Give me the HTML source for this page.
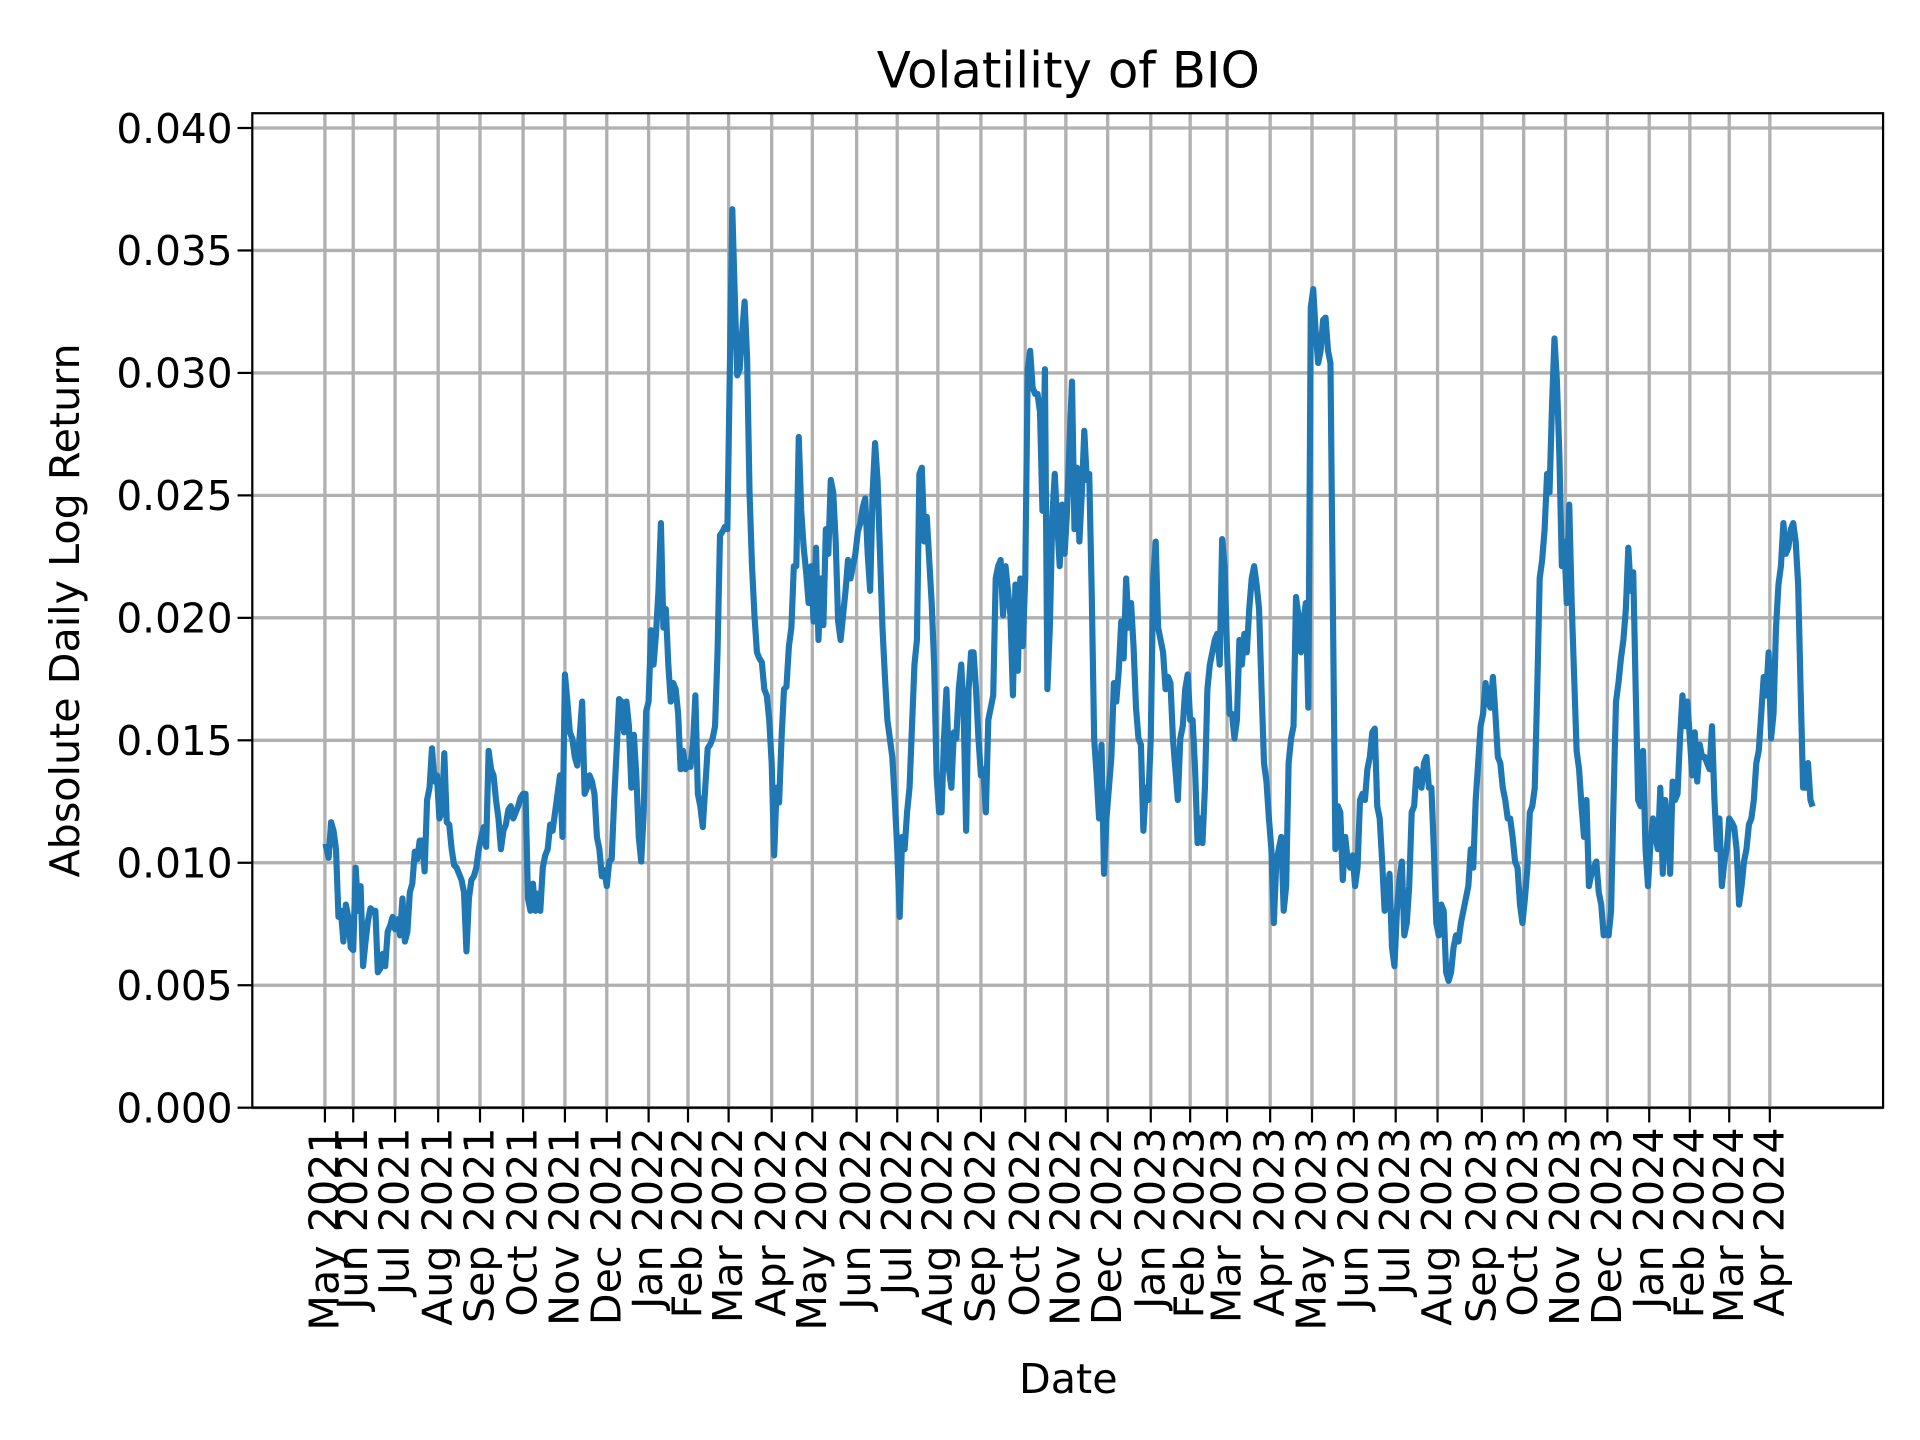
<!DOCTYPE html>
<html><head><meta charset="utf-8"><style>html,body{margin:0;padding:0;background:#fff}svg{display:block}</style></head>
<body>
<svg width="1920" height="1440" viewBox="0 0 1560 1170" xmlns="http://www.w3.org/2000/svg" font-family="'DejaVu Sans','Liberation Sans',sans-serif">
<rect width="1560" height="1170" fill="#fff"/>
<g stroke="#b0b0b0" stroke-width="2.7">
<line x1="205" x2="1530" y1="900" y2="900"/><line x1="205" x2="1530" y1="800.5" y2="800.5"/><line x1="205" x2="1530" y1="701" y2="701"/><line x1="205" x2="1530" y1="601.5" y2="601.5"/><line x1="205" x2="1530" y1="502" y2="502"/><line x1="205" x2="1530" y1="402.5" y2="402.5"/><line x1="205" x2="1530" y1="303" y2="303"/><line x1="205" x2="1530" y1="203.5" y2="203.5"/><line x1="205" x2="1530" y1="104" y2="104"/>
</g>
<g id="vg" stroke="#b0b0b0" stroke-width="2.7"></g>
<polyline fill="none" stroke="#1f77b4" stroke-width="5" stroke-linejoin="round" stroke-linecap="square" points="265,688 267,697 269,668 271,675 273,690 275,745 277,740 279,765 281,735 283,745 285,770 287,772 289,705 291,740 293,720 295,785 297,765 299,748 301,738 303,740 305,740 307,790 309,787 311,775 313,785 315,757 317,752 319,745 321,755 323,747 325,760 327,730 329,765 331,757 333,725 335,718 337,692 339,698 341,683 343,683 345,708 347,650 349,640 351,608 353,635 355,630 357,665 359,660 361,612 363,668 365,670 367,690 369,703 371,705 373,710 375,715 377,725 379,773 381,730 383,715 385,712 387,705 389,690 391,680 393,672 395,688 397,610 399,625 401,630 403,650 405,665 407,690 409,675 411,670 413,658 415,655 417,665 419,660 421,655 423,648 425,645 427,645 429,730 431,740 433,718 435,740 437,726 439,740 441,705 443,695 445,690 447,670 449,675 451,660 453,645 455,630 457,680 459,548 461,570 463,595 465,600 467,615 469,622 471,598 473,570 475,645 477,640 479,630 481,635 483,645 485,680 487,690 489,712 491,707 493,720 495,700 497,698 499,650 501,610 503,568 505,570 507,595 509,570 511,590 513,640 515,597 517,630 519,680 521,700 523,660 525,578 527,570 529,512 531,540 533,515 535,480 537,425 539,510 541,495 543,540 545,570 547,555 549,560 551,580 553,625 555,610 557,625 559,620 561,623 563,605 565,565 567,645 569,655 571,672 573,640 575,608 577,605 579,600 581,590 583,530 585,435 587,432 589,428 591,430 593,300 595,170 597,240 599,305 601,300 603,270 605,245 607,290 609,400 611,460 613,500 615,530 617,535 619,538 621,560 623,565 625,585 627,620 629,695 631,640 633,652 635,600 637,560 639,558 641,525 643,510 645,460 647,460 649,355 651,415 653,445 655,465 657,490 659,460 661,505 663,445 665,520 667,470 669,508 671,430 673,450 675,390 677,400 679,440 681,505 683,520 685,500 687,480 689,455 691,470 693,460 695,450 697,432 699,425 701,412 703,405 705,450 707,480 709,400 711,360 713,390 715,450 717,510 719,550 721,585 723,600 725,615 727,650 729,690 731,745 733,680 735,690 737,660 739,640 741,590 743,540 745,520 747,385 749,380 751,440 753,420 755,455 757,490 759,540 761,630 763,660 765,660 767,600 769,560 771,625 773,640 775,595 777,600 779,560 781,540 783,580 785,675 787,560 789,530 791,530 793,560 795,600 797,630 799,625 801,660 803,585 805,575 807,565 809,470 811,460 813,455 815,500 817,460 819,480 821,500 823,565 825,475 827,545 829,470 831,525 833,470 835,300 837,285 839,315 841,320 843,320 845,335 847,415 849,300 851,560 853,510 855,420 857,385 859,425 861,460 863,410 865,450 867,415 869,360 871,310 873,430 875,380 877,440 879,400 881,350 883,390 885,385 887,480 889,600 891,630 893,665 895,605 897,710 899,665 901,640 903,615 905,555 907,570 909,545 911,505 913,535 915,470 917,510 919,490 921,525 923,575 925,600 927,605 929,675 931,640 933,650 935,600 937,470 939,440 941,510 943,520 945,530 947,560 949,550 951,555 953,600 955,625 957,650 959,600 961,590 963,560 965,548 967,585 969,585 971,625 973,685 975,665 977,685 979,640 981,560 983,540 985,530 987,520 989,515 991,540 993,438 995,460 997,530 999,580 1001,580 1003,600 1005,585 1007,520 1009,540 1011,515 1013,530 1015,495 1017,470 1019,460 1021,475 1023,495 1025,560 1027,620 1029,635 1031,665 1033,690 1035,750 1037,700 1039,690 1041,680 1043,740 1045,720 1047,620 1049,600 1051,590 1053,485 1055,500 1057,530 1059,505 1061,490 1063,575 1065,250 1067,235 1069,270 1071,295 1073,285 1075,260 1077,258 1079,285 1081,295 1083,495 1085,690 1087,655 1089,660 1091,715 1093,680 1095,700 1097,705 1099,695 1101,720 1103,705 1105,650 1107,645 1109,650 1111,625 1113,615 1115,595 1117,592 1119,655 1121,665 1123,700 1125,740 1127,730 1129,710 1131,770 1133,785 1135,740 1137,715 1139,700 1141,760 1143,750 1145,720 1147,660 1149,655 1151,625 1153,630 1155,640 1157,620 1159,615 1161,640 1163,640 1165,690 1167,750 1169,760 1171,735 1173,740 1175,790 1177,797 1179,790 1181,770 1183,760 1185,765 1187,750 1189,740 1191,730 1193,720 1195,690 1197,705 1199,650 1201,620 1203,590 1205,580 1207,555 1209,570 1211,575 1213,550 1215,580 1217,615 1219,620 1221,640 1223,650 1225,665 1227,665 1229,680 1231,700 1233,705 1235,735 1237,750 1239,730 1241,705 1243,660 1245,655 1247,640 1249,560 1251,470 1253,455 1255,430 1257,385 1259,400 1261,330 1263,275 1265,310 1267,370 1269,460 1271,440 1273,490 1275,410 1277,490 1279,550 1281,610 1283,625 1285,655 1287,680 1289,650 1291,720 1293,710 1295,705 1297,700 1299,725 1301,735 1303,760 1305,755 1307,760 1309,740 1311,650 1313,570 1315,555 1317,535 1319,520 1321,495 1323,445 1325,480 1327,465 1329,560 1331,650 1333,655 1335,610 1337,690 1339,720 1341,685 1343,665 1345,680 1347,690 1349,640 1351,710 1353,650 1355,670 1357,710 1359,635 1361,650 1363,645 1365,600 1367,565 1369,590 1371,570 1373,600 1375,630 1377,595 1379,635 1381,605 1383,615 1385,615 1387,620 1389,625 1391,590 1393,650 1395,690 1397,665 1399,720 1401,700 1403,690 1405,665 1407,668 1409,672 1411,690 1413,735 1415,720 1417,700 1419,690 1421,670 1423,665 1425,650 1427,620 1429,610 1431,580 1433,550 1435,565 1437,530 1439,600 1441,580 1443,510 1445,475 1447,460 1449,425 1451,450 1453,445 1455,430 1457,425 1459,440 1461,475 1463,560 1465,640 1467,640 1469,620 1471,650 1472,653"/>
<rect x="205" y="92" width="1325" height="808" fill="none" stroke="#000" stroke-width="1.8"/>
<g stroke="#000" stroke-width="1.8">
<line x1="193" x2="205" y1="900" y2="900"/><line x1="193" x2="205" y1="800.5" y2="800.5"/><line x1="193" x2="205" y1="701" y2="701"/><line x1="193" x2="205" y1="601.5" y2="601.5"/><line x1="193" x2="205" y1="502" y2="502"/><line x1="193" x2="205" y1="402.5" y2="402.5"/><line x1="193" x2="205" y1="303" y2="303"/><line x1="193" x2="205" y1="203.5" y2="203.5"/><line x1="193" x2="205" y1="104" y2="104"/>
</g>
<g font-size="33" text-anchor="end" fill="#000">
<text x="189" y="912">0.000</text><text x="189" y="812.5">0.005</text><text x="189" y="713">0.010</text><text x="189" y="613.5">0.015</text><text x="189" y="514">0.020</text><text x="189" y="414.5">0.025</text><text x="189" y="315">0.030</text><text x="189" y="215.5">0.035</text><text x="189" y="116">0.040</text>
</g>
<g id="xt" stroke="#000" stroke-width="1.8"></g>
<g id="xl" font-size="33.5" text-anchor="end" fill="#000"></g>
<text x="868" y="71" font-size="40.5" text-anchor="middle">Volatility of BIO</text>
<text x="868" y="1132" font-size="33.5" text-anchor="middle">Date</text>
<text transform="translate(64,496) rotate(-90)" font-size="33.5" text-anchor="middle">Absolute Daily Log Return</text>
<script>
var xs=[264,287,321,356,390,425,459,493,527,559,592,627,660,696,729,762,797,833,866,900,935,967,997,1032,1066,1100,1134,1168,1204,1238,1272,1306,1340,1373,1405,1438];
var lab=["May 2021","Jun 2021","Jul 2021","Aug 2021","Sep 2021","Oct 2021","Nov 2021","Dec 2021","Jan 2022","Feb 2022","Mar 2022","Apr 2022","May 2022","Jun 2022","Jul 2022","Aug 2022","Sep 2022","Oct 2022","Nov 2022","Dec 2022","Jan 2023","Feb 2023","Mar 2023","Apr 2023","May 2023","Jun 2023","Jul 2023","Aug 2023","Sep 2023","Oct 2023","Nov 2023","Dec 2023","Jan 2024","Feb 2024","Mar 2024","Apr 2024"];
var ns="http://www.w3.org/2000/svg",vg=document.getElementById("vg"),xt=document.getElementById("xt"),xl=document.getElementById("xl");
xs.forEach(function(x,i){
 var l=document.createElementNS(ns,"line");l.setAttribute("x1",x);l.setAttribute("x2",x);l.setAttribute("y1",92);l.setAttribute("y2",900);vg.appendChild(l);
 var t=document.createElementNS(ns,"line");t.setAttribute("x1",x);t.setAttribute("x2",x);t.setAttribute("y1",900);t.setAttribute("y2",912);xt.appendChild(t);
 var s=document.createElementNS(ns,"text");s.setAttribute("transform","translate("+(x+11)+",916) rotate(-90)");s.textContent=lab[i];xl.appendChild(s);
});
</script>
</svg>
</body></html>
